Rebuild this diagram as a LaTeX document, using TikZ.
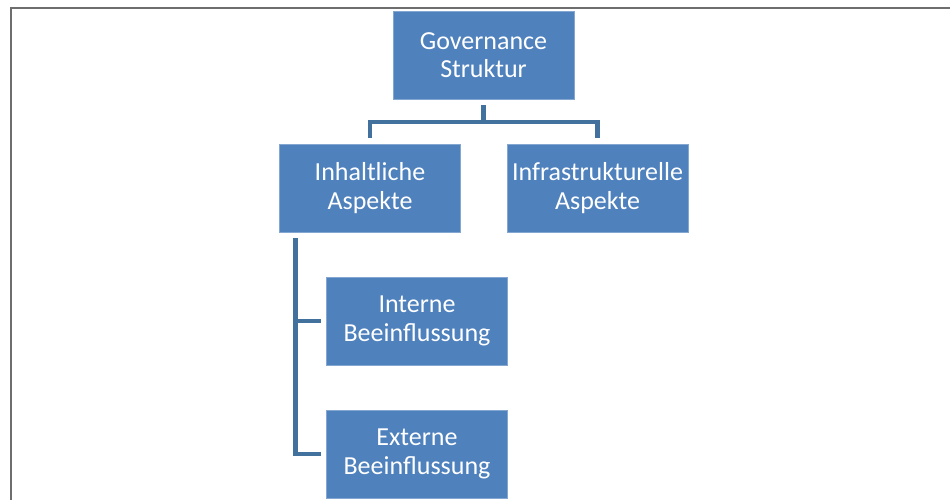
\documentclass[tikz,border=0pt]{standalone}
\usepackage{fontspec}
\setmainfont{Carlito}
\definecolor{boxblue}{HTML}{4F81BD}
\definecolor{connblue}{HTML}{41719C}
\definecolor{framegray}{HTML}{6E6E6E}
\begin{document}
\begin{tikzpicture}[x=1pt,y=1pt,
  box/.style={rectangle, fill=boxblue, draw=boxblue!70!white, line width=0.6pt,
    minimum width=181pt, minimum height=88pt, inner sep=0pt, align=center,
    text=white, font=\fontsize{26}{28.5}\selectfont},
  conn/.style={draw=connblue, line width=4.6pt, line join=miter, line cap=butt},
  frame/.style={draw=framegray, line width=1.4pt}]
\useasboundingbox (0,0) rectangle (950,499);
% frame
\coordinate (fbl) at (11,-2);
\coordinate (ftl) at (11,491);
\coordinate (ftr) at (952,491);
\draw[frame] (fbl) -- (ftl) -- (ftr);
% nodes
\node[box] (gov) at (483.5,444) {Governance\\Struktur};
\node[box] (inh) at (370,311) {Inhaltliche\\Aspekte};
\node[box] (inf) at (597.5,311) {Infrastrukturelle\\Aspekte};
\node[box] (int) at (417,178) {Interne\\Beeinflussung};
\node[box] (ext) at (417,45) {Externe\\Beeinflussung};
% connectors
\coordinate (bus) at (483.5,377);
\draw[conn] ([yshift=-6pt]gov.south) -- (bus);
\draw[conn] ([yshift=6pt]inh.north) |- (bus) -| ([yshift=6pt]inf.north);
\coordinate (vtop) at ([xshift=16.5pt,yshift=-6pt]inh.south west);
\draw[conn] (vtop) |- ([xshift=-5pt]ext.west);
\draw[conn] (vtop |- int.west) -- ([xshift=-5pt]int.west);
\end{tikzpicture}
\end{document}
